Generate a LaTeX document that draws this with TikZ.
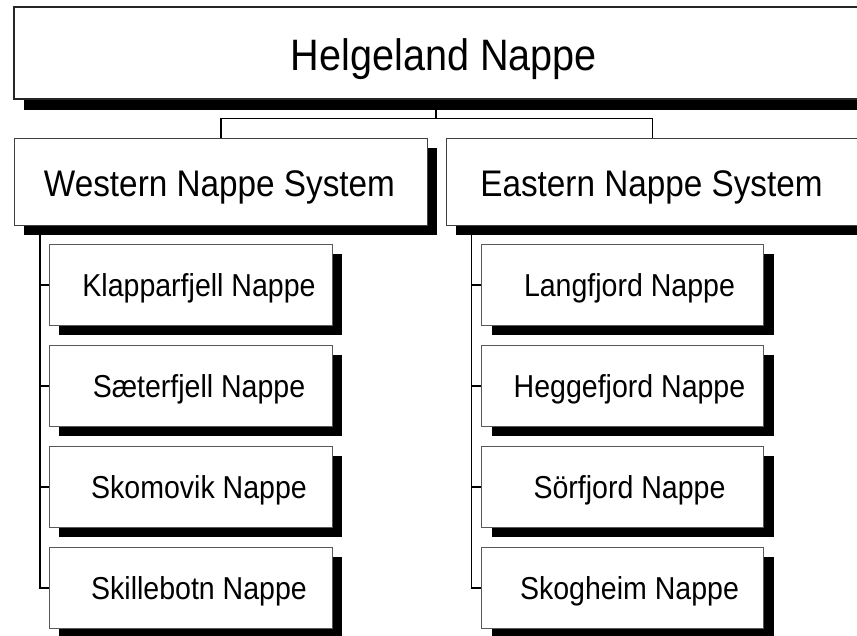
\documentclass[tikz,border=0pt]{standalone}
\usepackage{fontspec}
\newfontfamily\nf[FakeStretch=0.9]{Liberation Sans}
\usetikzlibrary{shadows,backgrounds}
\begin{document}
\begin{tikzpicture}[x=1pt,y=-1pt,
  sbox/.style={draw=black!75, line width=0.9pt, fill=white, rectangle, inner sep=0pt, anchor=north west,
    general shadow={shadow xshift=10pt, shadow yshift=-10pt, fill=black, opacity=1}},
  topbox/.style={sbox, draw=black!85, line width=1.8pt, general shadow={shadow xshift=10pt, shadow yshift=-11pt, fill=black, opacity=1}},
  midbox/.style={sbox, minimum height=87.3pt},
  childbox/.style={sbox, draw=black!65, minimum width=283pt, minimum height=81pt},
  conn/.style={draw=black, line width=1.2pt},
  bigtext/.style={font=\nf\fontsize{44}{50}\selectfont, anchor=base, inner sep=0pt},
  midtext/.style={font=\nf\fontsize{37}{42}\selectfont, anchor=base, inner sep=0pt},
  childtext/.style={font=\nf\fontsize{31.7}{36}\selectfont, anchor=base, inner sep=0pt}]
\useasboundingbox (0,0) rectangle (857,635);
\clip (0,0) rectangle (857,635);

% top
\node[topbox, minimum width=857pt, minimum height=92pt] (top) at (12.7,6.3) {};
\node[bigtext] (topt) at (444,70) {Helgeland Nappe};

% systems
\node[midbox, minimum width=413pt] (west) at (14,137.7) {};
\node[midtext] (westt) at (219.5,196.7) {Western Nappe System};
\node[midbox, minimum width=412pt] (east) at (446,137.7) {};
\node[midtext] (eastt) at (651.5,196.7) {Eastern Nappe System};

% west children
\node[childbox] (w1) at (49,244) {};
\node[childbox] (w2) at (49,345) {};
\node[childbox] (w3) at (49,446) {};
\node[childbox] (w4) at (49,547) {};
\node[childtext] (w1t) at (199,296.5) {Klapparfjell Nappe};
\node[childtext] (w2t) at (199,397.5) {Sæterfjell Nappe};
\node[childtext] (w3t) at (199,498.5) {Skomovik Nappe};
\node[childtext] (w4t) at (199,599.5) {Skillebotn Nappe};

% east children
\node[childbox, minimum width=282pt] (e1) at (481.3,244) {};
\node[childbox, minimum width=282pt] (e2) at (481.3,345) {};
\node[childbox, minimum width=282pt] (e3) at (481.3,446) {};
\node[childbox, minimum width=282pt] (e4) at (481.3,547) {};
\node[childtext] (e1t) at (629.5,296.5) {Langfjord Nappe};
\node[childtext] (e2t) at (629.5,397.5) {Heggefjord Nappe};
\node[childtext] (e3t) at (629.5,498.5) {Sörfjord Nappe};
\node[childtext] (e4t) at (629.5,599.5) {Skogheim Nappe};

\coordinate (j) at (436,118.7);
\coordinate (wv) at (40,225);
\coordinate (ev) at (471.7,225);

\begin{scope}[on background layer]
  \draw[conn] (top.south -| j) -- (j);
  \draw[conn] (west.north) |- (j) -| (east.north);
  \draw[conn] (wv) |- (w4.west);
  \draw[conn] (wv |- w1.west) -- (w1.west);
  \draw[conn] (wv |- w2.west) -- (w2.west);
  \draw[conn] (wv |- w3.west) -- (w3.west);
  \draw[conn] (ev) |- (e4.west);
  \draw[conn] (ev |- e1.west) -- (e1.west);
  \draw[conn] (ev |- e2.west) -- (e2.west);
  \draw[conn] (ev |- e3.west) -- (e3.west);
\end{scope}
\end{tikzpicture}
\end{document}
